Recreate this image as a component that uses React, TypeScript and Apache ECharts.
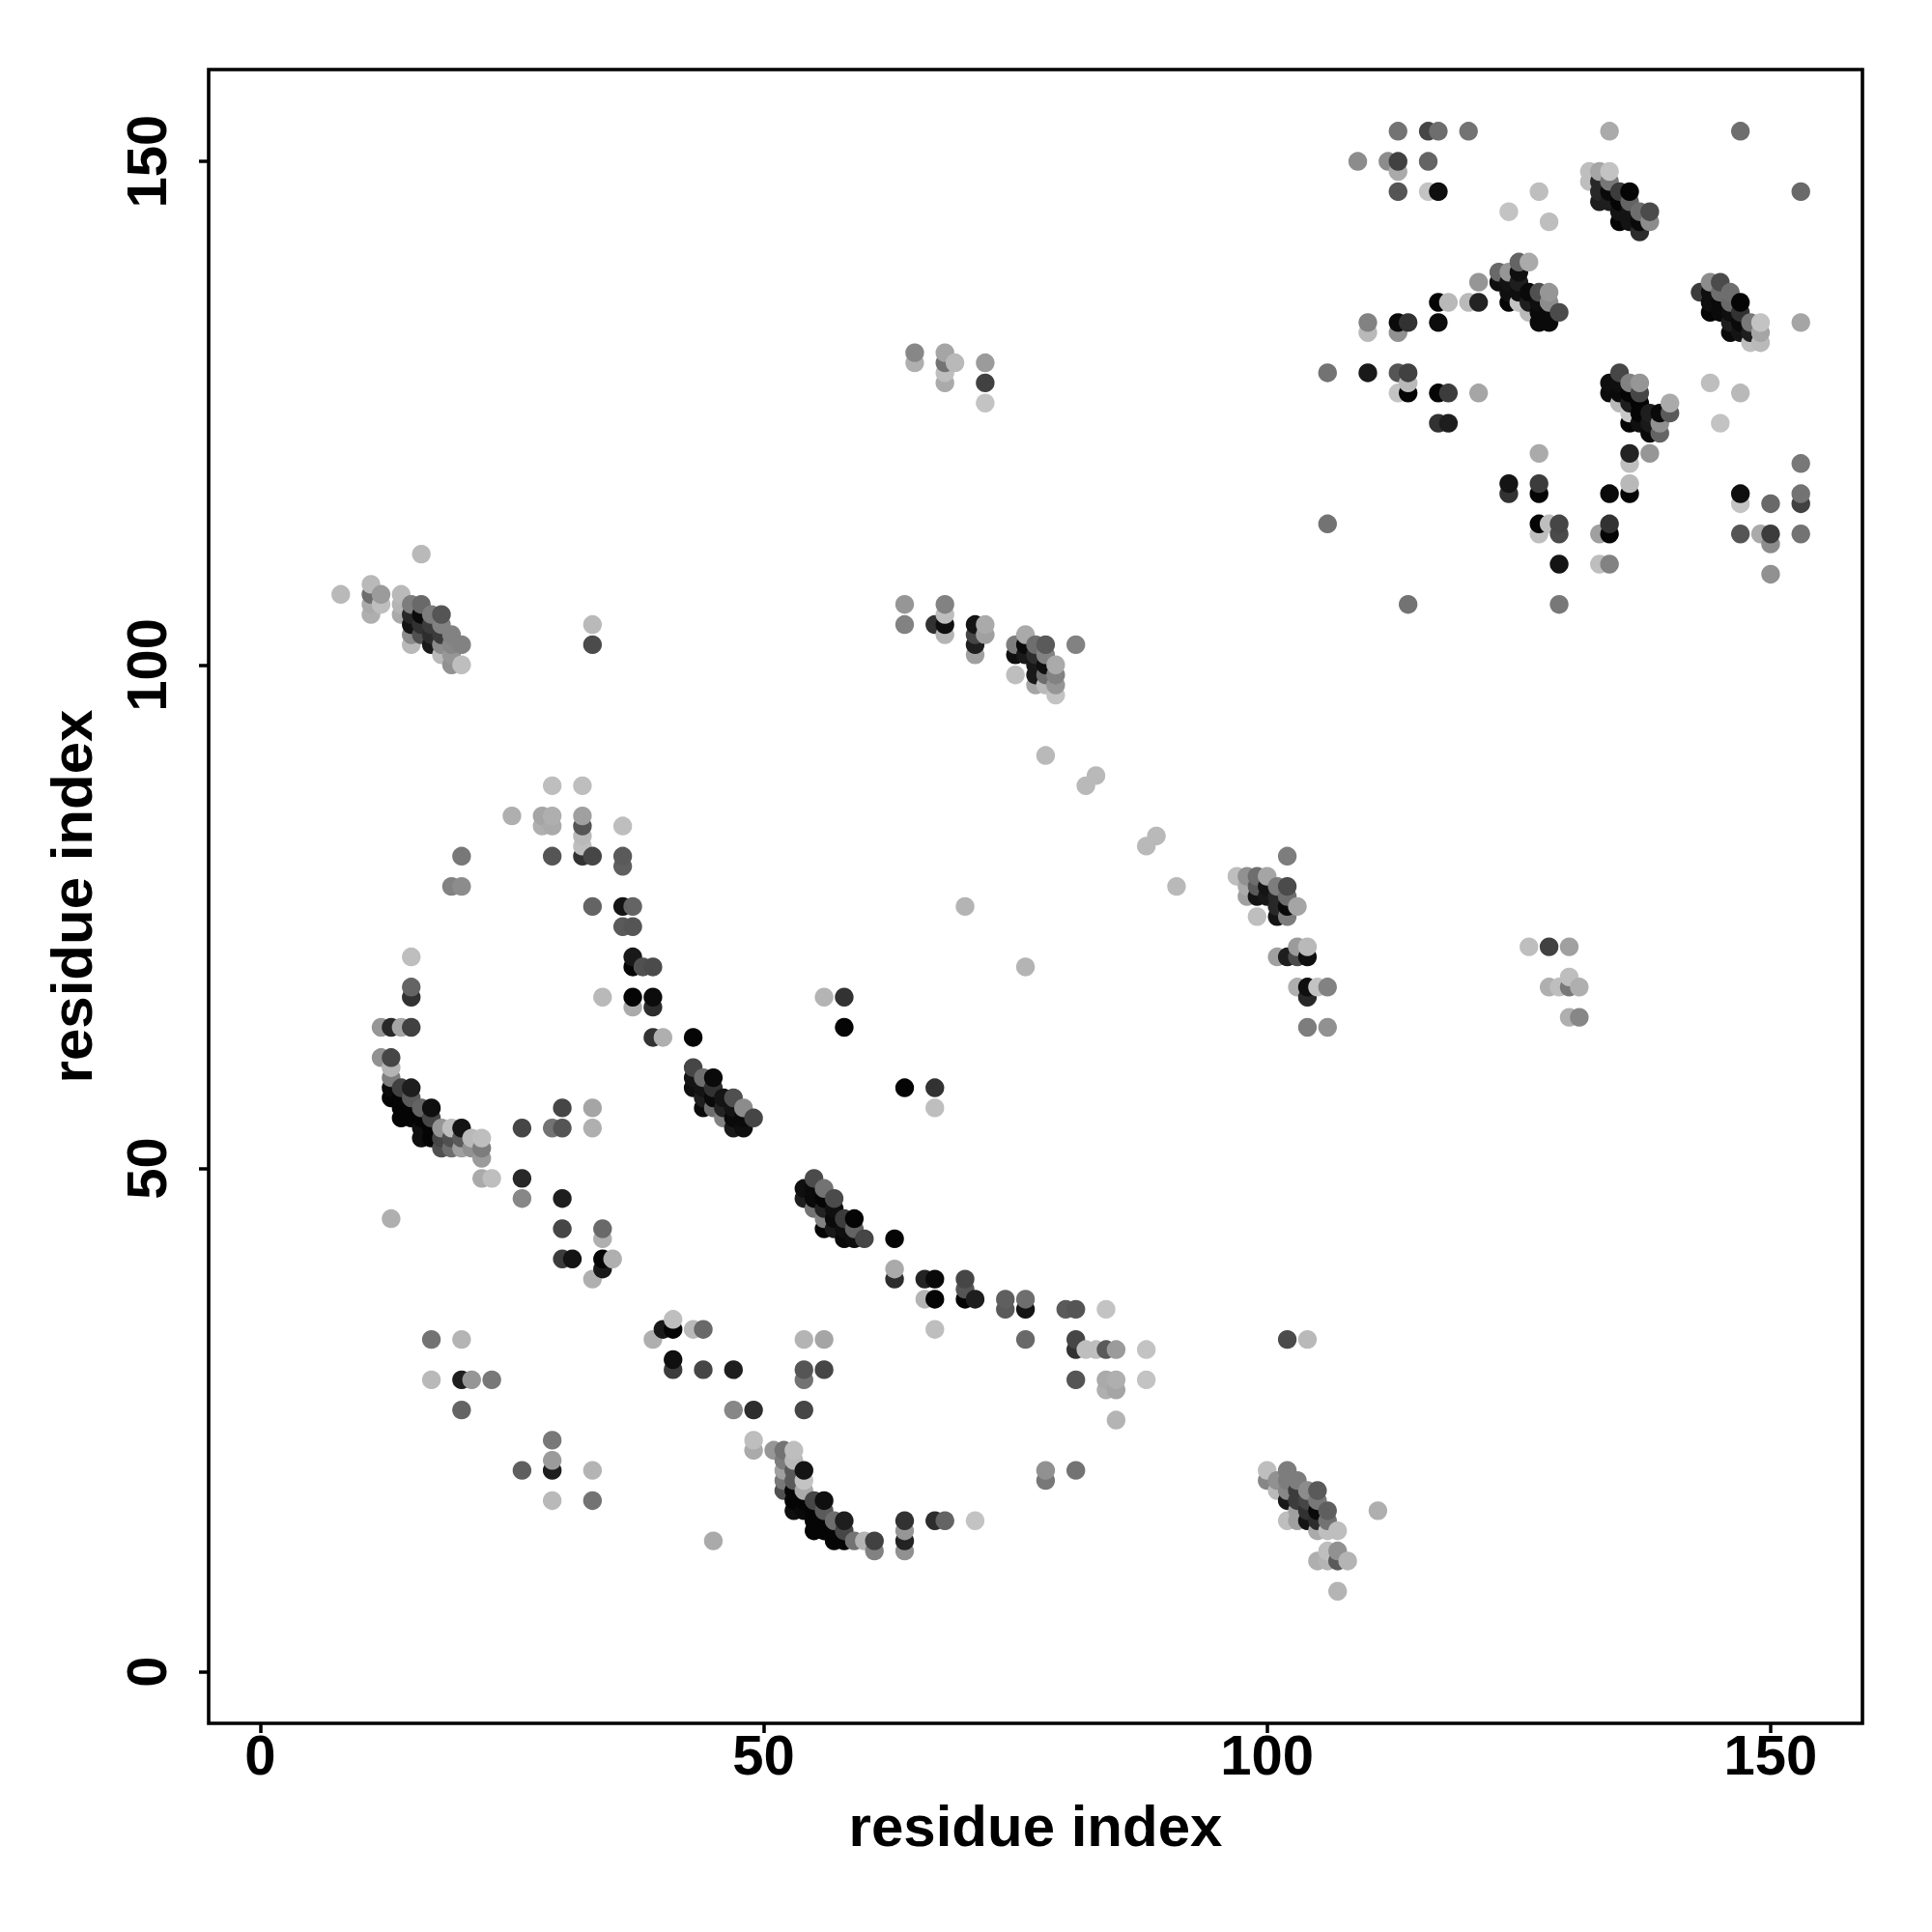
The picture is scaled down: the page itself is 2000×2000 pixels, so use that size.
import React, { useEffect, useRef } from "react";
import * as echarts from "echarts";

// [residue i, residue j, grey level of the contact]
const topRightSparse = [
  [113,153,115],[116,153,70],[117,153,110],[120,153,115],[134,153,170],[147,153,110],
  [109,150,140],[112,150,140],[113,150,65],[113,149,170],[116,150,100],[113,147,85],[116,147,195],[117,147,15],
  [124,145,195],[127,147,190],[128,144,190],[153,147,105],[121,138,150],
  [117,136,5],[118,136,185],[120,136,185],[121,136,35],
  [110,134,130],[110,133,185],[113,134,10],[114,134,50],[113,133,145],[117,134,12],
  [106,129,115],[110,129,25],[113,129,85],[114,129,65],[114,128,185],[113,127,195],[114,127,5],
  [117,127,5],[118,127,60],[121,127,165],[117,124,50],[118,124,30],[106,114,115],[114,106,115],
  [144,128,190],[147,127,185],[145,124,195],[153,134,165],
];
const lowerRightSparse = [
  [127,121,170],[136,121,35],[136,120,190],[138,121,150],[153,120,120],
  [124,118,20],[124,117,50],[127,118,60],[127,117,5],[134,117,10],[136,117,5],[136,118,185],
  [147,117,15],[147,116,195],[150,116,105],[153,117,115],[153,116,65],
  [127,114,5],[128,114,190],[129,114,70],[129,113,75],[127,113,190],
  [133,113,160],[134,113,5],[134,114,50],[129,110,20],[133,110,190],[134,110,130],[129,106,120],
  [147,113,85],[149,113,170],[150,113,60],[150,112,140],[153,113,115],[150,109,145],
];
const helixA = [
  [132,149,190],[132,148,190],[133,149,165],[134,149,195],[133,148,40],[134,148,120],
  [133,147,40],[133,146,30],[134,147,10],[134,146,30],[135,147,60],[136,147,5],
  [135,146,5],[136,146,100],[135,145,20],[136,145,20],[137,145,110],[138,145,75],
  [135,144,5],[136,144,20],[137,144,10],[138,144,140],[137,143,45],
];
const helixB = [
  [123,139,105],[124,139,150],[125,140,100],[126,140,170],[123,138,15],[124,138,20],[125,139,15],[125,138,30],
  [124,137,15],[125,137,15],[126,137,10],[127,137,80],[128,137,150],
  [124,136,5],[125,136,195],[126,136,30],[127,136,15],[128,136,140],
  [126,135,185],[127,135,10],[128,135,10],[129,135,75],[127,134,10],[128,134,10],
];
const helixC = [
  [143,137,60],[144,138,140],[145,138,75],[144,137,15],[145,137,110],[146,137,110],
  [144,136,15],[145,136,10],[146,136,105],[147,136,5],[144,135,5],[145,135,10],[146,135,15],[147,135,50],
  [146,134,30],[147,134,10],[148,134,120],[149,134,195],[146,133,10],[147,133,20],[148,133,30],[149,133,165],
  [148,132,190],[149,132,185],
];
const helixD = [
  [135,129,70],[134,128,15],[135,128,15],[136,128,130],[137,128,150],
  [134,127,12],[135,127,10],[136,127,5],[137,127,70],
  [135,126,185],[136,126,30],[137,126,5],[140,126,170],
  [136,125,200],[137,125,5],[138,125,30],[139,125,10],[140,125,90],
  [136,124,5],[137,124,15],[138,124,25],[139,124,145],[138,123,10],[139,123,100],
];
const upperMiddle = [
  [65,131,135],[65,130,175],[68,131,165],[69,130,185],[68,130,115],[68,129,190],[68,128,170],
  [72,130,155],[72,128,65],[72,126,195],
  [64,106,150],[64,104,130],[68,106,130],[68,105,190],[67,104,50],[68,104,15],[68,103,180],
  [71,104,20],[72,104,170],[72,103,160],[71,103,70],[71,102,30],[71,101,160],
  [75,102,125],[76,103,170],[75,101,15],[76,102,10],[76,101,25],[77,102,110],[78,102,90],[81,102,130],
  [77,101,45],[78,101,130],[77,100,25],[78,100,15],[79,100,170],
  [75,99,190],[77,99,25],[78,99,110],[79,99,130],[77,98,165],[78,98,185],[79,98,150],[79,97,195],
];
const diagonalFaint = [
  [78,91,185],[82,88,185],[83,89,185],[88,82,185],[89,83,185],[91,78,185],[70,76,180],[76,70,180],
];
const upperLeft = [
  [16,111,185],[8,107,185],[11,108,185],[11,107,110],[12,107,155],[11,106,170],[12,106,190],[11,105,175],
  [14,107,185],[14,106,180],[14,105,170],[15,106,125],[16,106,105],
  [15,105,40],[16,105,10],[17,105,125],[18,105,85],[15,104,20],[16,104,50],[17,104,60],[18,104,130],
  [15,103,140],[16,103,80],[17,103,45],[18,103,60],[19,103,130],
  [15,102,185],[17,102,25],[18,102,140],[19,102,135],[20,102,130],
  [18,101,185],[19,101,150],[19,100,145],[20,100,190],[33,104,185],[33,102,75],
];
const leftArc = [
  [29,88,190],[32,88,190],[25,85,175],[28,85,165],[29,85,175],[28,84,175],[29,84,170],
  [32,85,160],[32,84,85],[32,83,185],[32,82,190],[32,81,50],[33,81,70],[36,84,190],
  [20,81,120],[29,81,85],[36,81,90],[36,80,95],[19,78,130],[20,78,140],
  [33,76,100],[36,76,20],[37,76,100],[36,74,90],[37,74,85],[37,71,25],[37,70,5],[38,70,80],[39,70,75],
  [15,71,190],[15,68,100],[15,67,50],[34,67,185],[37,67,5],[39,67,12],[37,66,170],[39,66,45],
  [39,63,50],[40,63,175],[43,63,5],
];
const hairpinLeft = [
  [12,64,150],[13,64,40],[14,64,165],[15,64,65],[12,61,145],[13,61,70],[13,60,180],[13,59,125],[13,58,10],[13,57,5],
  [14,58,65],[15,58,30],[14,57,5],[15,57,90],[14,56,5],[14,55,5],[15,56,5],[15,55,5],[16,56,100],[17,56,15],
  [16,55,5],[17,55,70],[16,54,15],[17,54,5],[18,54,150],[19,54,190],[20,54,20],
  [16,53,15],[17,53,5],[18,53,70],[19,53,80],[20,53,90],[21,53,185],[22,53,190],
  [18,52,80],[19,52,110],[20,52,160],[21,52,145],[22,52,125],[22,51,155],[22,49,170],[23,49,190],
];
const midLeftSparse = [
  [26,54,70],[29,54,115],[30,54,85],[30,56,70],[33,56,165],[33,54,175],[26,49,40],[26,47,135],[30,47,30],
  [13,45,175],[30,44,70],[34,44,105],[34,43,175],[30,41,60],[31,41,20],[34,41,5],[35,41,175],[34,40,25],[33,39,175],
];
const helixE = [
  [43,60,70],[44,59,110],[45,59,10],[43,59,20],[43,58,15],[44,58,20],[45,58,50],
  [44,57,30],[45,57,10],[46,57,20],[47,57,80],[44,56,10],[45,56,110],[46,56,35],[47,56,20],[48,56,140],
  [46,55,130],[47,55,10],[48,55,10],[49,55,70],[47,54,25],[48,54,15],
];
const lowerLeftSparse = [
  [17,33,115],[20,33,180],[17,29,185],[20,29,30],[21,29,150],[23,29,120],[20,26,100],
  [29,23,120],[29,21,155],[29,20,30],[26,20,95],[33,20,180],[29,17,185],[33,17,115],
  [39,33,175],[40,34,25],[41,34,5],[41,35,190],[43,34,185],[44,34,105],
  [41,31,15],[41,30,60],[44,30,70],[47,30,30],[47,26,135],[49,26,45],
  [54,33,180],[56,33,165],[54,30,85],[56,30,70],[54,29,115],[54,26,70],
  [49,23,190],[49,22,170],[45,13,170],
];
const hairpinLower = [
  [51,22,150],[52,22,115],[53,22,190],[52,21,125],[53,21,185],[52,20,160],[53,20,90],[54,20,20],
  [52,19,120],[53,19,90],[54,19,195],[52,18,80],[53,18,5],[54,18,170],[53,17,5],[54,17,5],[55,17,70],[56,17,15],
  [53,16,15],[54,16,10],[55,16,5],[56,16,90],[55,15,5],[56,15,5],[57,15,110],[58,15,30],
  [55,14,5],[56,14,5],[57,14,5],[58,14,70],[57,13,5],[58,13,5],[59,13,115],[60,13,180],[61,13,65],[61,12,130],
  [64,15,50],[64,14,150],[64,13,35],[64,12,145],[67,15,45],[68,15,100],[71,15,195],
];
const helixF = [
  [55,49,75],[54,48,15],[55,48,10],[56,48,115],[54,47,30],[55,47,10],[56,47,5],[57,47,75],
  [55,46,115],[56,46,35],[57,46,15],[56,45,130],[57,45,10],[58,45,60],[59,45,5],
  [56,44,5],[57,44,25],[58,44,15],[59,44,100],[58,43,10],[59,43,15],[60,43,70],[63,43,5],
];
const centreSparse = [
  [56,67,180],[58,67,50],[58,64,5],[64,58,5],[67,58,50],[67,56,190],
  [63,40,170],[63,39,45],[66,39,35],[67,39,10],[66,37,180],[67,37,5],[67,34,190],
  [70,39,70],[70,38,85],[70,37,5],[71,37,30],[74,37,95],[74,36,90],[76,37,110],[76,36,20],
  [80,36,90],[81,36,85],[84,36,195],[76,33,105],[81,33,70],[81,32,50],[82,32,190],[83,32,190],[84,32,90],[85,32,155],[88,32,195],
  [81,29,85],[84,29,170],[85,29,175],[88,29,195],[84,28,175],[85,28,165],[85,25,180],
  [78,20,145],[78,19,120],[81,20,115],
];
const rightMiddle = [
  [102,81,125],[97,79,190],[98,79,145],[99,79,110],[100,79,165],
  [98,78,170],[99,78,90],[100,78,20],[101,78,125],[102,78,75],
  [98,77,160],[99,77,20],[100,77,25],[101,77,40],[102,77,110],[101,76,40],[102,76,10],[103,76,165],
  [99,75,190],[101,75,20],[102,75,125],[101,71,160],[102,71,30],[103,71,75],[104,71,15],[103,72,155],[104,72,185],
  [103,68,175],[104,68,15],[104,67,40],[105,68,195],[106,68,130],[104,64,125],[106,64,145],
  [126,72,190],[128,72,65],[130,72,160],[130,69,190],[128,68,175],[129,68,190],[130,68,120],[131,68,175],[130,65,175],[131,65,135],
];
const lowerRightCluster = [
  [102,33,75],[104,33,185],[111,16,175],
  [100,20,190],[102,20,125],[100,19,135],[101,19,145],[102,19,125],[103,19,125],
  [101,18,185],[102,18,135],[103,18,60],[104,18,140],[105,18,90],
  [102,17,25],[103,17,60],[104,17,70],[105,17,120],[103,16,160],[104,16,50],[105,16,10],[106,16,95],
  [102,15,190],[103,15,160],[104,15,20],[105,15,45],[106,15,115],[105,14,170],[106,14,190],[107,14,190],
  [106,12,190],[107,12,145],[105,11,175],[106,11,180],[107,11,90],[108,11,180],[107,8,180],
];

const axisTicks = [0, 50, 100, 150];
const axisTitle = "residue index";

// the original plots by i, then j: right over left, upper over lower
const contacts = [
  ...topRightSparse, ...lowerRightSparse, ...helixA, ...helixB, ...helixC, ...helixD, ...upperMiddle,
  ...diagonalFaint, ...upperLeft, ...leftArc, ...hairpinLeft, ...midLeftSparse, ...helixE, ...lowerLeftSparse,
  ...hairpinLower, ...helixF, ...centreSparse, ...rightMiddle, ...lowerRightCluster,
].sort((a, b) => a[0] - b[0] || a[1] - b[1]);

const FONT = "Liberation Sans";

function axis(extra: any) {
  return {
    type: "value",
    min: -5.12,
    max: 159.12,
    splitLine: { show: false },
    axisLine: { show: false, onZero: false },
    axisTick: { show: true, length: 10, customValues: axisTicks, lineStyle: { color: "#000", width: 3.5 } },
    name: axisTitle,
    nameLocation: "middle",
    nameTextStyle: { fontFamily: FONT, fontWeight: "bold", fontSize: 60, color: "#000" },
    ...extra,
  };
}

export default function App() {
  const ref = useRef<HTMLDivElement>(null);
  useEffect(() => {
    const chart = echarts.init(ref.current!, null, { renderer: "svg" });
    chart.setOption({
      animation: false,
      backgroundColor: "#fff",
      grid: {
        left: 216,
        top: 72,
        width: 1712,
        height: 1712,
        show: true,
        borderColor: "#000",
        borderWidth: 3.6,
        backgroundColor: "transparent",
      },
      xAxis: axis({
        nameGap: 76,
        axisLabel: { customValues: axisTicks, margin: 3, fontFamily: FONT, fontWeight: "bold", fontSize: 58, color: "#000" },
      }),
      yAxis: axis({
        nameGap: 112,
        nameRotate: 90,
        axisLabel: { customValues: axisTicks, rotate: 90, margin: 36, fontFamily: FONT, fontWeight: "bold", fontSize: 58, color: "#000" },
      }),
      series: [
        {
          type: "scatter",
          symbol: "circle",
          symbolSize: 19.4,
          data: contacts,
          encode: { x: 0, y: 1 },
          itemStyle: {
            opacity: 1,
            color: (p: any) => {
              const g = p.data[2];
              return `rgb(${g},${g},${g})`;
            },
          },
        },
      ],
    });
    return () => chart.dispose();
  }, []);
  return <div ref={ref} style={{ position: "absolute", left: 0, top: 0, width: 2000, height: 2000 }} />;
}
